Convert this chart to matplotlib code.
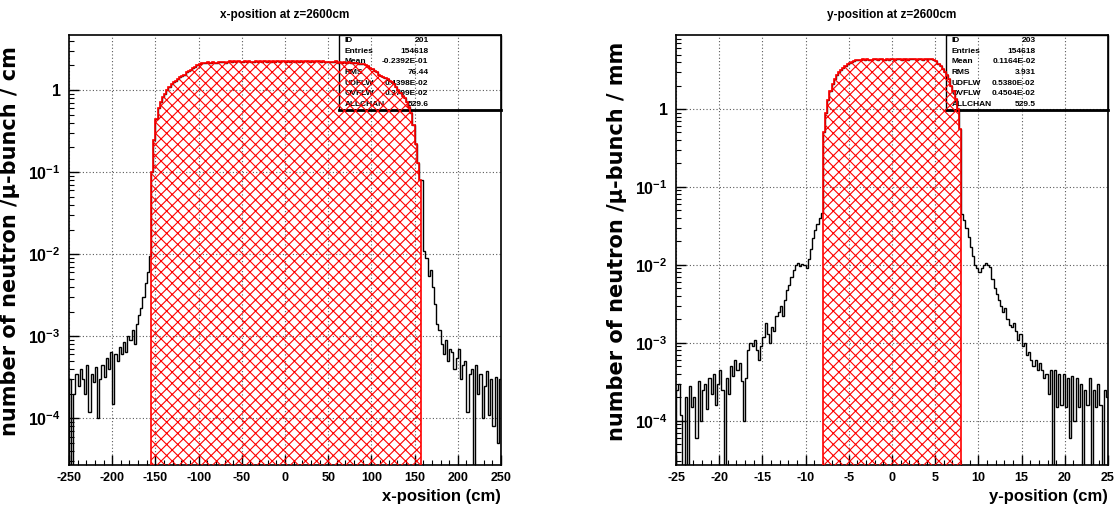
import numpy as np
import matplotlib
matplotlib.use("Agg")
import matplotlib.pyplot as plt
from matplotlib.patches import Rectangle
from matplotlib.ticker import FixedLocator, LogLocator, NullFormatter, MultipleLocator

plt.rcParams['font.family'] = ['Liberation Sans', 'DejaVu Sans']
plt.rcParams['font.weight'] = 'bold'
plt.rcParams['mathtext.fontset'] = 'custom'
plt.rcParams['mathtext.rm'] = 'Liberation Sans:bold'
plt.rcParams['mathtext.bf'] = 'Liberation Sans:bold'
plt.rcParams['mathtext.it'] = 'Liberation Sans:bold:italic'
plt.rcParams['axes.unicode_minus'] = False
plt.rcParams['hatch.linewidth'] = 0.8

# ---------------- x-position histogram (2.5 cm bins, -250 .. 250) ----------------
x_edges = np.arange(-250, 252.5, 2.5)

# left tail -250 .. -155, in units of 1e-4
x_tail_left = [3.0, 0, 2.0, 3.5, 2.5, 4.0, 3.0, 2.0, 4.5, 1.2,
               3.5, 2.8, 4.2, 1.0, 3.0, 4.5, 3.2, 5.5, 4.0, 6.5,
               1.5, 6.0, 5.0, 7.5, 6.0, 8.5, 6.5, 10, 9, 12,
               8, 14, 18, 22, 30, 45, 60, 95]
# core -155 .. 157.5 (red hatched part)
x_rise = [0.10, 0.25, 0.45, 0.60, 0.72, 0.82, 0.90, 1.00, 1.10, 1.20,
          1.25, 1.30, 1.35, 1.45, 1.50, 1.55, 1.65, 1.70, 1.75, 1.85,
          1.90, 2.00, 2.10]
x_top = [2.12, 2.16, 2.13, 2.19, 2.15, 2.21, 2.17, 2.14, 2.20, 2.18,
         2.23, 2.17, 2.21, 2.25, 2.19, 2.24, 2.20, 2.26, 2.22, 2.18,
         2.25, 2.21, 2.27, 2.23, 2.19, 2.26, 2.22, 2.28, 2.20, 2.24,
         2.21, 2.27, 2.23, 2.25, 2.19, 2.26, 2.22, 2.28, 2.24, 2.20,
         2.26, 2.22, 2.27, 2.21, 2.25, 2.23, 2.28, 2.20, 2.24, 2.26,
         2.21, 2.25, 2.19, 2.24, 2.27, 2.22, 2.25, 2.20, 2.23, 2.18,
         2.22, 2.19, 2.24, 2.17, 2.21, 2.16, 2.20, 2.15, 2.18, 2.13,
         2.16, 2.12, 2.14, 2.10, 2.11]
x_fall = [2.10, 2.00, 1.95, 1.85, 1.80, 1.70, 1.65, 1.55, 1.50, 1.45,
          1.40, 1.35, 1.30, 1.25, 1.20, 1.10, 1.00, 0.92, 0.85, 0.80,
          0.72, 0.62, 0.52, 0.38, 0.22, 0.13, 0.08]
# right tail 157.5 .. 250, in units of 1e-4
x_tail_right = [800, 110, 90, 55, 65, 40, 25, 14, 12, 8,
                6, 9, 5, 7, 6.5, 4, 5.5, 7, 3, 4.5,
                5, 1.2, 3.5, 4, 0, 4.5, 2, 3.5, 1.0, 2.5,
                3.8, 1.1, 3.0, 0.8, 3.2, 0.5, 3.0]

# ---------------- y-position histogram (0.25 cm bins, -25 .. 25) ----------------
y_edges = np.arange(-25, 25.25, 0.25)

y_tail_left = [2.5, 3.0, 1.2, 0, 2.0, 0, 2.8, 1.5, 2.0, 0.6,
               3.2, 1.0, 2.5, 3.0, 1.4, 3.5, 2.2, 4.0, 1.6, 3.0,
               4.5, 2.5, 0, 3.5, 2.2, 5.0, 3.8, 6.0, 4.5, 5.5,
               3.2, 1.0, 3.5, 8.0, 10, 9, 11, 8, 6, 9,
               12, 18, 13, 10, 16, 14, 22, 25, 30, 22,
               35, 48, 55, 70, 85, 100, 105, 98, 102, 100,
               90, 120, 160, 220, 280, 330, 400, 460]
y_rise = [0.5, 0.9, 1.3, 1.7, 2.1, 2.4, 2.7, 2.95, 3.2, 3.4,
          3.6, 3.75, 3.9, 4.05, 4.15]
y_top = [4.22, 4.28, 4.25, 4.33, 4.27, 4.36, 4.30, 4.26, 4.38, 4.32,
         4.29, 4.35, 4.40, 4.31, 4.37, 4.28, 4.34, 4.39, 4.30, 4.36,
         4.33, 4.27, 4.41, 4.35, 4.30, 4.38, 4.32, 4.36, 4.29, 4.40,
         4.34, 4.31, 4.37, 4.33, 4.35, 4.32]
y_fall = [4.3, 4.1, 3.8, 3.55, 3.3, 3.0, 2.7, 2.4, 2.0, 1.7,
          1.35, 1.0, 0.55]
y_tail_right = [450, 380, 300, 230, 170, 130, 100, 90, 80, 90,
                100, 105, 100, 95, 65, 50, 42, 35, 30, 25,
                28, 20, 17, 16, 18, 14, 11, 13, 9, 10,
                7, 7.5, 6, 5, 6, 4.5, 5.5, 4.5, 3.5, 4.0,
                2.2, 4.5, 0, 4.5, 1.5, 4.0, 1.6, 4.0, 1.5, 3.5,
                0.6, 3.8, 1.0, 3.5, 1.5, 3.0, 0, 2.5, 1.6, 3.5,
                0, 2.5, 1.5, 3.0, 1.6, 0, 2.5, 2.0]

x_stats = [("ID", "201"), ("Entries", "154618"), ("Mean", "-0.2392E-01"),
           ("RMS", "76.44"), ("UDFLW", "0.4398E-02"), ("OVFLW", "0.3799E-02"),
           ("ALLCHAN", "529.6")]
y_stats = [("ID", "203"), ("Entries", "154618"), ("Mean", "0.1164E-02"),
           ("RMS", "3.931"), ("UDFLW", "0.5380E-02"), ("OVFLW", "0.4504E-02"),
           ("ALLCHAN", "529.5")]

YMIN = 2.7e-5


def build(tail_l, rise, top, fall, tail_r):
    core = np.array(rise + top + fall)
    vals = np.concatenate([np.array(tail_l) * 1e-4, core, np.array(tail_r) * 1e-4])
    vals = np.where(vals > 0, vals, 1e-9)
    return vals, len(tail_l), len(tail_l) + len(core)


def decade_label(v, pos):
    e = int(round(np.log10(v)))
    if e == 0:
        return "1"
    return r"$\mathbf{10^{%d}}$" % e


def draw_panel(ax, edges, vals, i0, i1, ymax, title, xlabel, ylabel, stats, major, minor):
    ax.stairs(vals, edges, color="black", lw=1.0, baseline=YMIN / 10, zorder=3)
    ax.stairs(vals[i0:i1], edges[i0:i1 + 1], fill=True, facecolor="none",
              edgecolor="red", hatch="xxx", lw=0, baseline=YMIN / 10, zorder=4)
    ax.stairs(vals[i0:i1], edges[i0:i1 + 1], color="red", lw=1.2,
              baseline=YMIN / 10, zorder=5)

    ax.set_yscale("log")
    ax.set_xlim(edges[0], edges[-1])
    ax.set_ylim(YMIN, ymax)

    ax.xaxis.set_major_locator(MultipleLocator(major))
    ax.xaxis.set_minor_locator(MultipleLocator(minor))
    ax.yaxis.set_major_locator(FixedLocator([1e-4, 1e-3, 1e-2, 1e-1, 1]))
    ax.yaxis.set_major_formatter(plt.FuncFormatter(decade_label))
    ax.yaxis.set_minor_locator(LogLocator(base=10, subs=np.arange(2, 10), numticks=20))
    ax.yaxis.set_minor_formatter(NullFormatter())

    ax.tick_params(which="both", direction="in", top=False, right=False)
    ax.tick_params(axis="x", labelsize=9, pad=5)
    ax.tick_params(axis="y", labelsize=11.5, pad=6)
    ax.tick_params(which="major", length=7, width=1)
    ax.tick_params(which="minor", length=3.5, width=0.8)
    for lab in ax.get_xticklabels() + ax.get_yticklabels():
        lab.set_fontweight("bold")
    for sp in ax.spines.values():
        sp.set_linewidth(1.2)

    ax.grid(True, which="major", color="0.35", linestyle=(0, (1, 2)), lw=0.8)
    ax.set_axisbelow(True)

    ax.set_title(title, fontsize=8.5, fontweight="bold", pad=12)
    ax.set_xlabel(xlabel, fontsize=12, fontweight="bold", loc="right", labelpad=4)
    ax.set_ylabel(ylabel, fontsize=15, fontweight="bold", family="DejaVu Sans")
    ax.yaxis.set_label_coords(-0.113, 0.52)

    # statistics box (transparent, like ROOT)
    bx0, by0 = 0.626, 0.826
    ax.add_patch(Rectangle((bx0, by0), 1 - bx0, 1 - by0, transform=ax.transAxes,
                           fill=False, ec="black", lw=1.0, zorder=2, clip_on=False))
    ax.plot([bx0, 1.0], [by0, by0], transform=ax.transAxes, color="black",
            lw=2.0, zorder=2, clip_on=False)
    row_h = (1 - by0) / len(stats)
    for k, (name, value) in enumerate(stats):
        yy = 1 - (k + 0.5) * row_h
        ax.text(bx0 + 0.012, yy, name, transform=ax.transAxes, fontsize=6,
                fontweight="bold", va="center", ha="left", zorder=2)
        ax.text(0.832, yy, value, transform=ax.transAxes, fontsize=6,
                fontweight="bold", va="center", ha="right", zorder=2)


def main():
    fig = plt.figure(figsize=(11.17, 5.12), dpi=100)
    ax1 = fig.add_axes([69 / 1117, 47 / 512, 432 / 1117, 430 / 512])
    ax2 = fig.add_axes([676 / 1117, 47 / 512, 432 / 1117, 430 / 512])

    xv, xi0, xi1 = build(x_tail_left, x_rise, x_top, x_fall, x_tail_right)
    yv, yi0, yi1 = build(y_tail_left, y_rise, y_top, y_fall, y_tail_right)

    draw_panel(ax1, x_edges, xv, xi0, xi1, 4.7, "x-position at z=2600cm",
               "x-position (cm)", "number of neutron /\u03bc-bunch / cm",
               x_stats, 50, 10)
    draw_panel(ax2, y_edges, yv, yi0, yi1, 8.9, "y-position at z=2600cm",
               "y-position (cm)", "number of neutron /\u03bc-bunch / mm",
               y_stats, 5, 1)

    fig.savefig("out.png", dpi=100)


if __name__ == "__main__":
    main()
